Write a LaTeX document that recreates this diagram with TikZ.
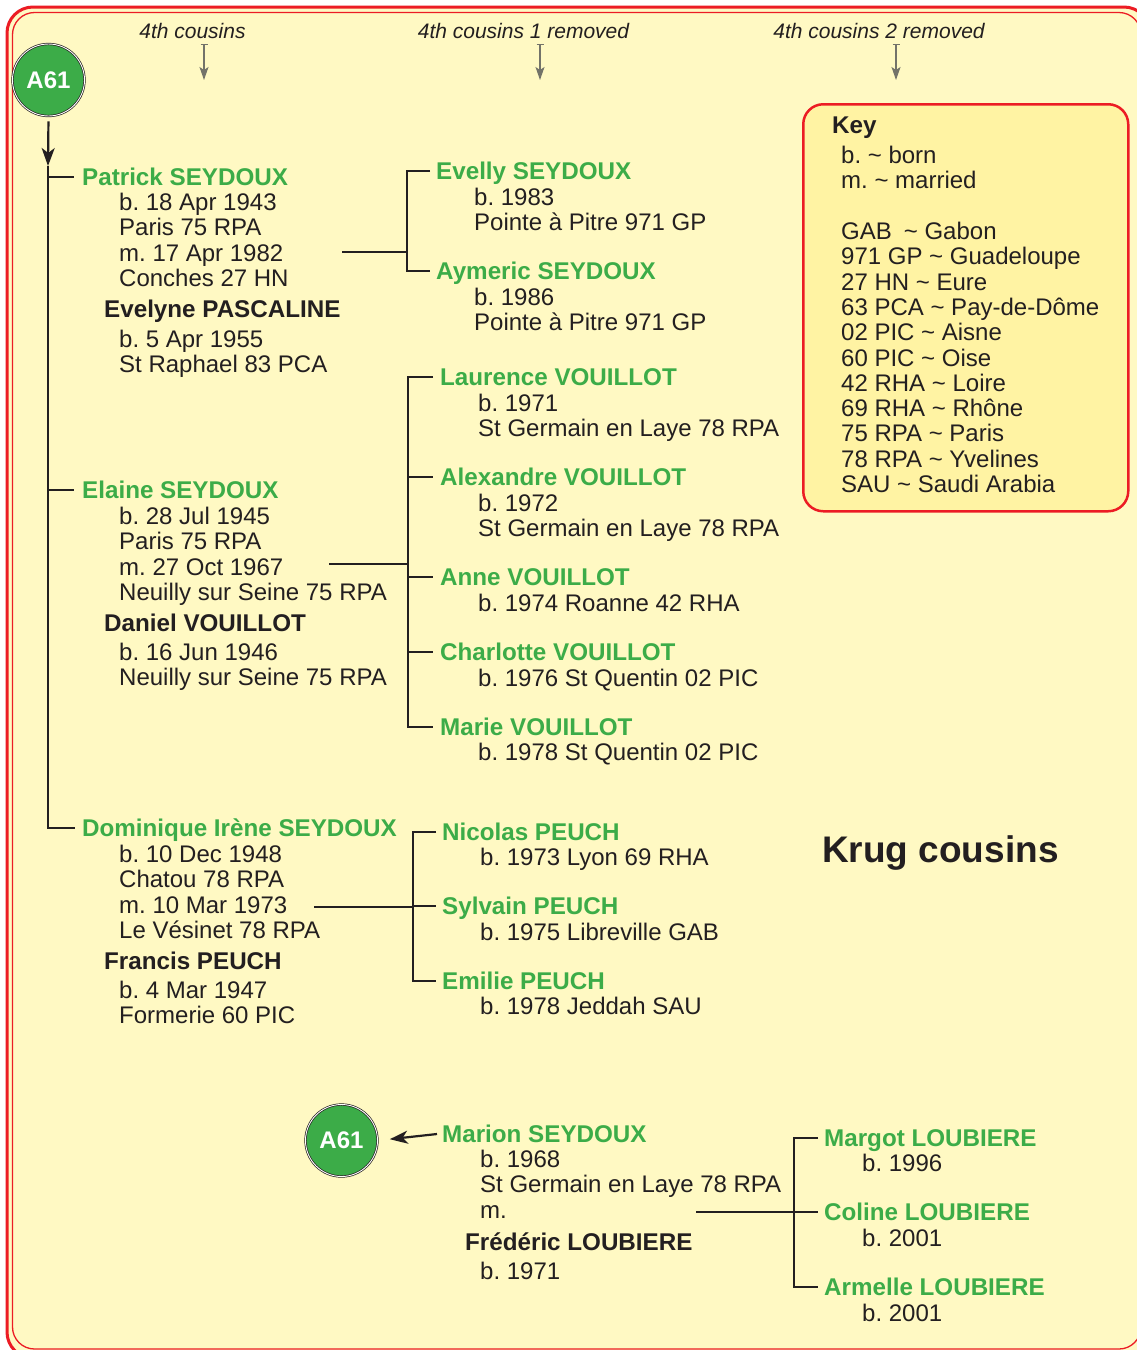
\documentclass[tikz,border=0pt]{standalone}
\usepackage{fontspec}
\setmainfont{Liberation Sans}
\usetikzlibrary{arrows.meta}
\frenchspacing
\definecolor{bgc}{RGB}{255,249,195}
\definecolor{keyc}{RGB}{255,243,163}
\definecolor{redc}{RGB}{236,28,36}
\definecolor{grn}{RGB}{60,172,72}
\definecolor{ink}{RGB}{35,31,32}
\definecolor{gry}{RGB}{115,115,105}
\newcommand\tld{\textasciitilde}
\newcommand\detl[4]{\foreach \t [count=\i] in {#4}{\node[txt] (#3\i) at (#1,{#2+25.3*(\i-1)}) {\t};}}
\tikzset{
 txt/.style={anchor=base west, inner sep=0pt, font=\fontsize{24}{25}\selectfont\frenchspacing, text=ink},
 nm/.style={anchor=base west, inner sep=0pt, text height=17.2pt, text depth=0pt, font=\fontsize{24.2}{25}\selectfont\bfseries, text=grn},
 sp/.style={anchor=base west, inner sep=0pt, font=\fontsize{24.2}{25}\selectfont\bfseries, text=ink},
 hdr/.style={anchor=base, inner sep=0pt, font=\fontsize{21}{22}\selectfont\itshape, text=ink},
 tree/.style={draw=ink, line width=2.2pt},
 hdrarrow/.style={draw=gry, line width=1.2pt, {Bar[width=7pt,line width=1pt]}-{Stealth[length=13pt,width=9pt,inset=3pt]}},
 badge/.style={circle, fill=grn, draw=ink, double=white, double distance=0.9pt, line width=0.7pt, minimum size=72pt, inner sep=0pt, font=\fontsize{24}{24}\selectfont\bfseries, text=white},
}
\begin{document}
\begin{tikzpicture}[x=1pt,y=-1pt]
\useasboundingbox (0,0) rectangle (1137,1350);
\fill[white] (0,0) rectangle (1137,1350);
% frame
\draw[redc, line width=3pt, fill=bgc, rounded corners=26pt] (7,7) rectangle (1150,1358);
\draw[redc, line width=1.3pt, rounded corners=22pt] (12.5,12.5) rectangle (1141,1349);

% headers
\node[hdr] (h1) at (192.5,38) {4th cousins};
\node[hdr] (h2) at (523.5,38) {4th cousins 1 removed};
\node[hdr] (h3) at (879,38) {4th cousins 2 removed};
\coordinate (h1a) at (204,44); \coordinate (h1b) at (204,80);
\coordinate (h2a) at (540,44); \coordinate (h2b) at (540,80);
\coordinate (h3a) at (896,44); \coordinate (h3b) at (896,80);
\draw[hdrarrow] (h1a) -- (h1b);
\draw[hdrarrow] (h2a) -- (h2b);
\draw[hdrarrow] (h3a) -- (h3b);

% key
\node[draw=redc, line width=2.5pt, fill=keyc, rounded corners=20pt, minimum width=325pt, minimum height=407pt, anchor=north west, inner sep=0pt] (key) at (802,103) {};
\node[sp] (keyt) at (832,133.5) {Key};
\detl{841}{163.5}{ka}{b. \tld{} born,m. \tld{} married}
\detl{841}{239.5}{kb}{GAB\hspace{12pt}\tld{} Gabon,971 GP \tld{} Guadeloupe,27 HN \tld{} Eure,63 PCA \tld{} Pay-de-Dôme,02 PIC \tld{} Aisne,60 PIC \tld{} Oise,42 RHA \tld{} Loire,69 RHA \tld{} Rhône,75 RPA \tld{} Paris,78 RPA \tld{} Yvelines,SAU \tld{} Saudi Arabia}

% title
\node[anchor=base west, inner sep=0pt, font=\fontsize{37}{40}\selectfont\bfseries, text=ink] (title) at (822,862) {Krug cousins};

% badges
\node[badge] (A61) at (48.5,80) {A61};
\node[badge] (A61b) at (341.5,1140.5) {A61};

% generation 1
\node[nm] (pat) at (82,185.6) {Patrick SEYDOUX};
\detl{119}{210.5}{patd}{b. 18 Apr 1943,Paris 75 RPA,m. 17 Apr 1982,Conches 27 HN}
\node[sp] (eve) at (104,317.6) {Evelyne PASCALINE};
\detl{119}{347.5}{eved}{b. 5 Apr 1955,St Raphael 83 PCA}

\node[nm] (ela) at (82,498.6) {Elaine SEYDOUX};
\detl{119}{524.5}{elad}{b. 28 Jul 1945,Paris 75 RPA,m. 27 Oct 1967,Neuilly sur Seine 75 RPA}
\node[sp] (dan) at (104,631.6) {Daniel VOUILLOT};
\detl{119}{660.5}{dand}{b. 16 Jun 1946,Neuilly sur Seine 75 RPA}

\node[nm] (dom) at (82,836.6) {Dominique Irène SEYDOUX};
\detl{119}{862.5}{domd}{b. 10 Dec 1948,Chatou 78 RPA,m. 10 Mar 1973,Le Vésinet 78 RPA}
\node[sp] (fra) at (104,969.6) {Francis PEUCH};
\detl{119}{998.5}{frad}{b. 4 Mar 1947,Formerie 60 PIC}

% generation 2
\node[nm] (evy) at (436,179.6) {Evelly SEYDOUX};
\detl{474}{205.5}{evyd}{b. 1983,Pointe à Pitre 971 GP}
\node[nm] (aym) at (436,279.6) {Aymeric SEYDOUX};
\detl{474}{305.5}{aymd}{b. 1986,Pointe à Pitre 971 GP}

\node[nm] (lau) at (440,385.6) {Laurence VOUILLOT};
\detl{478}{411.5}{laud}{b. 1971,St Germain en Laye 78 RPA}
\node[nm] (ale) at (440,485.6) {Alexandre VOUILLOT};
\detl{478}{511.5}{aled}{b. 1972,St Germain en Laye 78 RPA}
\node[nm] (ann) at (440,585.6) {Anne VOUILLOT};
\detl{478}{611.5}{annd}{b. 1974 Roanne 42 RHA}
\node[nm] (cha) at (440,660.6) {Charlotte VOUILLOT};
\detl{478}{686.5}{chad}{b. 1976 St Quentin 02 PIC}
\node[nm] (mrv) at (440,735.6) {Marie VOUILLOT};
\detl{478}{760.5}{mrvd}{b. 1978 St Quentin 02 PIC}

\node[nm] (nic) at (442,840.6) {Nicolas PEUCH};
\detl{480}{865.5}{nicd}{b. 1973 Lyon 69 RHA}
\node[nm] (syl) at (442,914.6) {Sylvain PEUCH};
\detl{480}{940.5}{syld}{b. 1975 Libreville GAB}
\node[nm] (emi) at (442,989.6) {Emilie PEUCH};
\detl{480}{1014.5}{emid}{b. 1978 Jeddah SAU}

\node[nm] (mrn) at (442,1142.6) {Marion SEYDOUX};
\detl{480}{1167.5}{mrnd}{b. 1968,St Germain en Laye 78 RPA,m.}
\node[sp] (fre) at (465,1250.6) {Frédéric LOUBIERE};
\detl{480}{1279.5}{fred}{b. 1971}

% generation 3
\node[nm] (mgt) at (824,1146.6) {Margot LOUBIERE};
\detl{862}{1171.5}{mgtd}{b. 1996}
\node[nm] (col) at (824,1220.6) {Coline LOUBIERE};
\detl{862}{1246.5}{cold}{b. 2001}
\node[nm] (arm) at (824,1295.6) {Armelle LOUBIERE};
\detl{862}{1321.5}{armd}{b. 2001}

% trunk
\coordinate (tip) at (48,166);
\draw[tree, -{Stealth[length=18pt,width=13pt,inset=5pt]}, shorten <=5pt] (A61.south) -- (tip);
\draw[tree] (tip) |- ([xshift=-7pt]dom.west);
\draw[tree] (tip |- pat.west) -- ([xshift=-8pt]pat.west);
\draw[tree] (tip |- ela.west) -- ([xshift=-8pt]ela.west);

% family 1
\coordinate (m1) at (342,252); \coordinate (b1) at (407,252);
\draw[tree] (m1) -- (b1);
\draw[tree] ([xshift=-6pt]evy.west) -| (b1) |- ([xshift=-6pt]aym.west);

% family 2
\coordinate (m2) at (329,564); \coordinate (b2) at (408,564);
\draw[tree] (m2) -- (b2);
\draw[tree] ([xshift=-7pt]lau.west) -| (b2) |- ([xshift=-7pt]mrv.west);
\draw[tree] (b2 |- ale.west) -- ([xshift=-7pt]ale.west);
\draw[tree] (b2 |- ann.west) -- ([xshift=-7pt]ann.west);
\draw[tree] (b2 |- cha.west) -- ([xshift=-7pt]cha.west);

% family 3
\coordinate (m3) at (314,907); \coordinate (b3) at (413,907);
\draw[tree] (m3) -- (b3);
\draw[tree] ([xshift=-6pt]nic.west) -| (b3) |- ([xshift=-6pt]emi.west);
\draw[tree] (b3 |- syl.west) -- ([xshift=-6pt]syl.west);

% family 4
\coordinate (m4) at (696,1212); \coordinate (b4) at (794,1212);
\draw[tree] (m4) -- (b4);
\draw[tree] ([xshift=-6pt]mgt.west) -| (b4) |- ([xshift=-6pt]arm.west);
\draw[tree] (b4 |- col.west) -- ([xshift=-6pt]col.west);

% link back to A61
\draw[tree, -{Stealth[length=18pt,width=13pt,inset=5pt]}, shorten >=12pt] ([xshift=-5pt]mrn.west) -- (A61b.east);
\end{tikzpicture}
\end{document}
